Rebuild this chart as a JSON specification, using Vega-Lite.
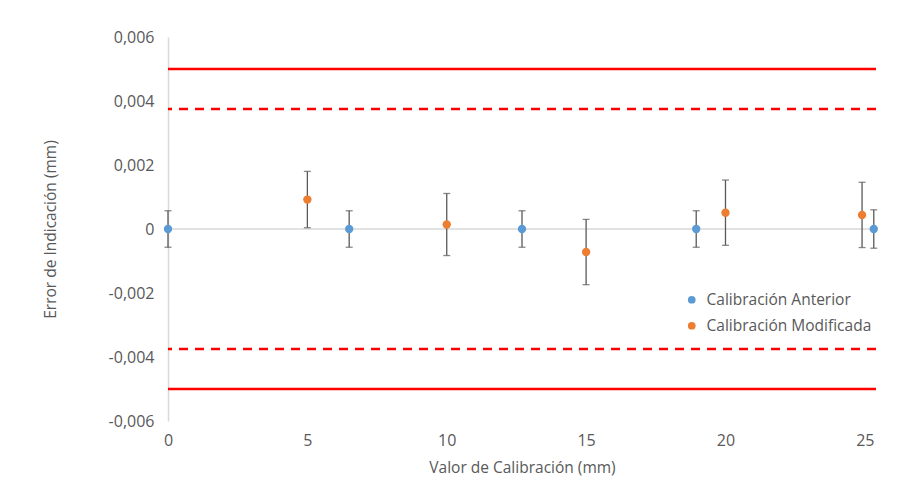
{
  "$schema": "https://vega.github.io/schema/vega-lite/v6.json",
  "width": 708,
  "height": 384,
  "autosize": "none",
  "padding": {"left": 168, "top": 37, "right": 36, "bottom": 77},
  "background": "white",
  "config": {
    "view": {"stroke": null},
    "font": "Open Sans"
  },
  "datasets": {
    "points": [
      {"x": 0, "y": 0, "lo": -0.00057, "hi": 0.00057, "serie": "Calibración Anterior"},
      {"x": 6.5, "y": 0, "lo": -0.00057, "hi": 0.00057, "serie": "Calibración Anterior"},
      {"x": 12.7, "y": 0, "lo": -0.00057, "hi": 0.00057, "serie": "Calibración Anterior"},
      {"x": 18.95, "y": 0, "lo": -0.00057, "hi": 0.00057, "serie": "Calibración Anterior"},
      {"x": 25.32, "y": 0, "lo": -0.0006, "hi": 0.0006, "serie": "Calibración Anterior"},
      {"x": 5, "y": 0.00092, "lo": 0.00004, "hi": 0.0018, "serie": "Calibración Modificada"},
      {"x": 10, "y": 0.00014, "lo": -0.00083, "hi": 0.00111, "serie": "Calibración Modificada"},
      {"x": 15, "y": -0.00072, "lo": -0.00174, "hi": 0.0003, "serie": "Calibración Modificada"},
      {"x": 20, "y": 0.00051, "lo": -0.00051, "hi": 0.00153, "serie": "Calibración Modificada"},
      {"x": 24.9, "y": 0.00044, "lo": -0.00058, "hi": 0.00146, "serie": "Calibración Modificada"}
    ],
    "limits": [
      {"y": 0.005, "tipo": "solid"},
      {"y": -0.005, "tipo": "solid"},
      {"y": 0.00375, "tipo": "dashed"},
      {"y": -0.00375, "tipo": "dashed"}
    ]
  },
  "layer": [
    {
      "data": {"values": [{"y": 0}]},
      "mark": {"type": "rule", "color": "#d9d9d9", "strokeWidth": 1.5},
      "encoding": {
        "y": {
          "field": "y", "type": "quantitative",
          "scale": {"domain": [-0.006, 0.006], "nice": false, "zero": false},
          "axis": {
            "title": "Error de Indicación (mm)",
            "values": [-0.006, -0.004, -0.002, 0, 0.002, 0.004, 0.006],
            "labelExpr": "datum.value == 0 ? '0' : (datum.value < 0 ? '-' : '') + replace(format(abs(datum.value), '.3f'), '.', ',')",
            "grid": false,
            "ticks": false,
            "domain": true,
            "domainColor": "#d9d9d9",
            "domainWidth": 1.5,
            "labelFlush": false,
            "labelFontSize": 16,
            "labelColor": "#595959",
            "labelPadding": 14,
            "titleFontSize": 15.5,
            "titleFontWeight": "normal",
            "titleColor": "#595959",
            "titlePadding": 50
          }
        }
      }
    },
    {
      "data": {"name": "limits"},
      "transform": [{"filter": "datum.tipo == 'solid'"}],
      "mark": {"type": "rule", "color": "#ff0000", "strokeWidth": 2.5},
      "encoding": {"y": {"field": "y", "type": "quantitative"}}
    },
    {
      "data": {"name": "limits"},
      "transform": [{"filter": "datum.tipo == 'dashed'"}],
      "mark": {"type": "rule", "color": "#ff0000", "strokeWidth": 2.5, "strokeDash": [9, 7]},
      "encoding": {"y": {"field": "y", "type": "quantitative"}}
    },
    {
      "data": {"name": "points"},
      "mark": {"type": "rule", "color": "#595959", "strokeWidth": 1.3},
      "encoding": {
        "x": {
          "field": "x", "type": "quantitative",
          "scale": {"domain": [0, 25.4], "nice": false, "zero": false},
          "axis": {
            "title": "Valor de Calibración (mm)",
            "values": [0, 5, 10, 15, 20, 25],
            "grid": false,
            "ticks": false,
            "domain": false,
            "labelFlush": false,
            "labelFontSize": 16,
            "labelColor": "#595959",
            "labelPadding": 11,
            "titleFontSize": 15.5,
            "titleFontWeight": "normal",
            "titleColor": "#595959",
            "titlePadding": 12
          }
        },
        "y": {"field": "lo", "type": "quantitative"},
        "y2": {"field": "hi"}
      }
    },
    {
      "data": {"name": "points"},
      "mark": {"type": "tick", "color": "#595959", "orient": "horizontal", "size": 7, "thickness": 1.3},
      "encoding": {
        "x": {"field": "x", "type": "quantitative"},
        "y": {"field": "lo", "type": "quantitative"}
      }
    },
    {
      "data": {"name": "points"},
      "mark": {"type": "tick", "color": "#595959", "orient": "horizontal", "size": 7, "thickness": 1.3},
      "encoding": {
        "x": {"field": "x", "type": "quantitative"},
        "y": {"field": "hi", "type": "quantitative"}
      }
    },
    {
      "data": {"name": "points"},
      "mark": {"type": "circle", "size": 70, "opacity": 1},
      "encoding": {
        "x": {"field": "x", "type": "quantitative"},
        "y": {"field": "y", "type": "quantitative"},
        "color": {
          "field": "serie", "type": "nominal",
          "scale": {"domain": ["Calibración Anterior", "Calibración Modificada"], "range": ["#5b9bd5", "#ed7d31"]},
          "legend": {
            "title": null,
            "orient": "none",
            "legendX": 516,
            "legendY": 255,
            "symbolSize": 60,
            "symbolType": "circle",
            "labelFontSize": 15.5,
            "labelLimit": 400,
            "labelColor": "#595959",
            "rowPadding": 9,
            "labelOffset": 7
          }
        }
      }
    }
  ]
}
